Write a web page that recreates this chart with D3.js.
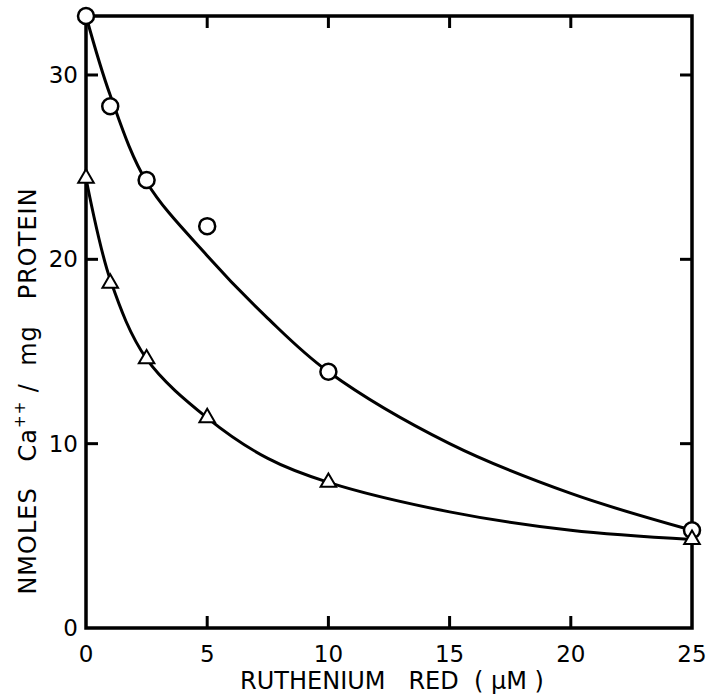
<!DOCTYPE html>
<html>
<head>
<meta charset="utf-8">
<script src="https://cdn.jsdelivr.net/npm/d3@7"></script>
<style>
  body { margin: 0; background: #fff; }
  text { font-family: "DejaVu Sans", sans-serif; fill: #000; }
</style>
</head>
<body>
<div id="chart"></div>
<script>
// measured points
var circleX = [0, 1, 2.5, 5, 10, 25];
var circleY = [33.2, 28.3, 24.3, 21.8, 13.9, 5.3];
var triX = [0, 1, 2.5, 5, 10, 25];
var triY = [24.4, 18.7, 14.6, 11.4, 7.9, 4.8];

// fitted curves as drawn
var circleFitX = [0, 1, 2.5, 5, 7.5, 10, 15, 20, 25];
var circleFitY = [33.2, 28.9, 24.2, 20.2, 16.8, 13.9, 10.0, 7.3, 5.3];
var triFitX = [0, 1, 2.5, 5, 7.5, 10, 15, 20, 25];
var triFitY = [24.4, 18.9, 14.6, 11.4, 9.2, 7.9, 6.3, 5.3, 4.8];

var xTicks = [0, 5, 10, 15, 20, 25];
var yTicks = [0, 10, 20, 30];

var width = 706, height = 699;
var margin = { top: 16, right: 14, bottom: 71, left: 86 };

var svg = d3.select('#chart').append('svg')
  .attr('width', width)
  .attr('height', height);

var x = d3.scaleLinear().domain([0, 25]).range([margin.left, width - margin.right]);
var y = d3.scaleLinear().domain([0, 33.2]).range([height - margin.bottom, margin.top]);

// frame
svg.append('rect')
  .attr('x', x(0)).attr('y', y(33.2))
  .attr('width', x(25) - x(0)).attr('height', y(0) - y(33.2))
  .attr('fill', 'none').attr('stroke', '#000').attr('stroke-width', 3.5);

// inward ticks on all sides
var tickLen = 12;
var ticksG = svg.append('g').attr('stroke', '#000').attr('stroke-width', 3);
xTicks.filter(function(d){ return d > 0 && d < 25; }).forEach(function(d) {
  ticksG.append('line').attr('x1', x(d)).attr('x2', x(d))
    .attr('y1', y(0)).attr('y2', y(0) - tickLen);
  ticksG.append('line').attr('x1', x(d)).attr('x2', x(d))
    .attr('y1', y(33.2)).attr('y2', y(33.2) + tickLen);
});
yTicks.filter(function(d){ return d > 0; }).forEach(function(d) {
  ticksG.append('line').attr('x1', x(0)).attr('x2', x(0) + tickLen)
    .attr('y1', y(d)).attr('y2', y(d));
  ticksG.append('line').attr('x1', x(25)).attr('x2', x(25) - tickLen)
    .attr('y1', y(d)).attr('y2', y(d));
});

// tick labels
svg.selectAll('.xlab').data(xTicks).enter().append('text')
  .attr('class', 'xlab')
  .attr('x', function(d){ return x(d); })
  .attr('y', y(0) + 34)
  .attr('text-anchor', 'middle')
  .attr('font-size', 23)
  .text(function(d){ return d; });

svg.selectAll('.ylab').data(yTicks).enter().append('text')
  .attr('class', 'ylab')
  .attr('x', x(0) - 8)
  .attr('y', function(d){ return y(d) + 8; })
  .attr('text-anchor', 'end')
  .attr('font-size', 23)
  .text(function(d){ return d; });

// axis titles
svg.append('text')
  .attr('x', 392)
  .attr('y', 689)
  .attr('text-anchor', 'middle')
  .attr('font-size', 24)
  .attr('xml:space', 'preserve')
  .text('RUTHENIUM   RED  ( \u03bcM )');

var yt = svg.append('text')
  .attr('transform', 'translate(36,' + 391 + ') rotate(-90)')
  .attr('text-anchor', 'middle')
  .attr('font-size', 24)
  .attr('letter-spacing', 1)
  .attr('xml:space', 'preserve');
yt.append('tspan').text('NMOLES   Ca');
yt.append('tspan').attr('dy', -11).attr('font-size', 15).text('++');
yt.append('tspan').attr('dy', 11).text(' /  mg   PROTEIN');

// curves
var line = d3.line()
  .x(function(d){ return x(d[0]); })
  .y(function(d){ return y(d[1]); })
  .curve(d3.curveCatmullRom.alpha(0.5));

svg.append('path')
  .datum(d3.zip(circleFitX, circleFitY))
  .attr('d', line)
  .attr('fill', 'none').attr('stroke', '#000').attr('stroke-width', 3);
svg.append('path')
  .datum(d3.zip(triFitX, triFitY))
  .attr('d', line)
  .attr('fill', 'none').attr('stroke', '#000').attr('stroke-width', 3);

// markers
svg.selectAll('.circ').data(d3.zip(circleX, circleY)).enter().append('circle')
  .attr('class', 'circ')
  .attr('cx', function(d){ return x(d[0]); })
  .attr('cy', function(d){ return y(d[1]); })
  .attr('r', 8)
  .attr('fill', '#fff').attr('stroke', '#000').attr('stroke-width', 2.5);

var tri = d3.symbol().type(d3.symbolTriangle).size(105);
svg.selectAll('.tri').data(d3.zip(triX, triY)).enter().append('path')
  .attr('class', 'tri')
  .attr('transform', function(d){ return 'translate(' + x(d[0]) + ',' + y(d[1]) + ')'; })
  .attr('d', tri)
  .attr('fill', '#fff').attr('stroke', '#000').attr('stroke-width', 2);
</script>
</body>
</html>
